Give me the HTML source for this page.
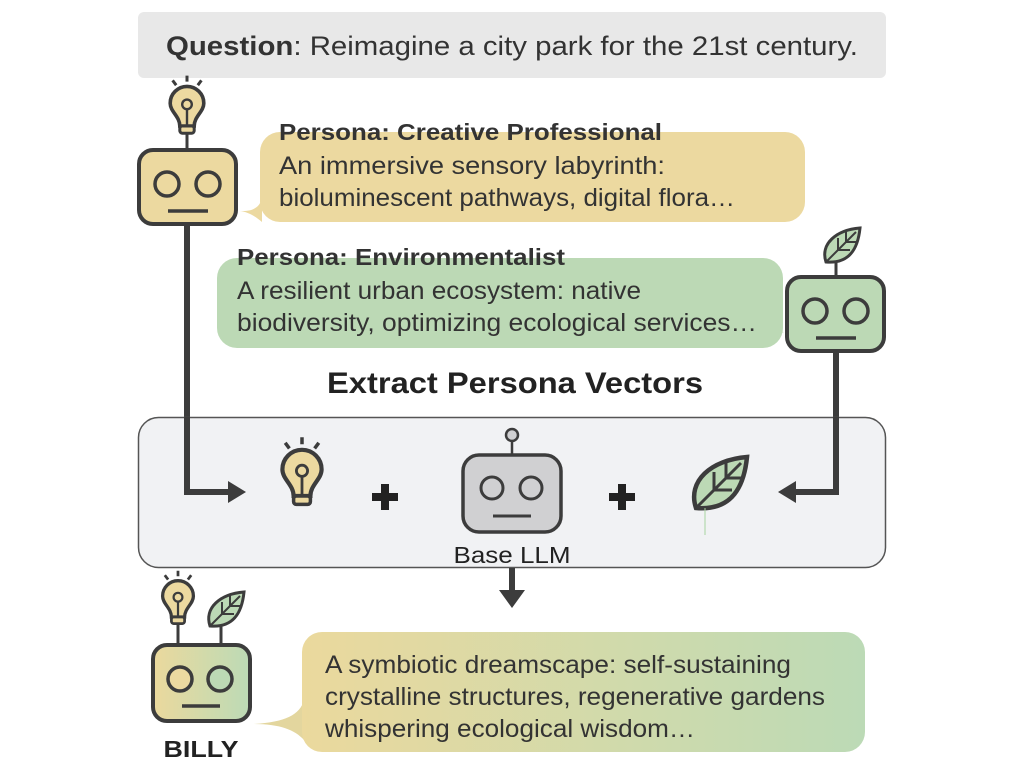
<!DOCTYPE html>
<html><head><meta charset="utf-8"><style>
body{margin:0;background:#fff;width:1024px;height:768px;overflow:hidden;font-family:"Liberation Sans",sans-serif;}
</style></head><body>
<svg width="1024" height="768" viewBox="0 0 1024 768" xmlns="http://www.w3.org/2000/svg" font-family="Liberation Sans, sans-serif">
<defs>
<linearGradient id="g1" x1="0" x2="1" y1="0" y2="0"><stop offset="0" stop-color="#ebd99d"/><stop offset="1" stop-color="#bcdab6"/></linearGradient>
<g id="bulb">
 <path d="M-9,-24 L-12,-28 M0,-27 L0,-32 M9,-24 L12,-28" stroke="#3c3c3c" stroke-width="2.5"/>
 <path d="M-6,10 C-6,2 -14,-2 -14,-9 A14,14 0 1 1 14,-9 C14,-2 6,2 6,10 Z" fill="#ecd9a0" stroke="#3c3c3c" stroke-width="3"/>
 <rect x="-6" y="10" width="12" height="6" rx="2" fill="#ecd9a0" stroke="#3c3c3c" stroke-width="2.5"/>
 <circle cx="0" cy="-8" r="4" fill="none" stroke="#3c3c3c" stroke-width="2"/>
 <path d="M0,-4 L0,10" stroke="#3c3c3c" stroke-width="2"/>
</g>
<g id="leaf">
 <path d="M-16,14 C-22,-4 -6,-18 18,-20 C16,0 8,16 -16,14 Z" fill="#bcd9b5" stroke="#3c3c3c" stroke-width="3"/>
 <path d="M-16,14 L14,-16 M-4,2 L-4,-10 M-4,2 L8,2 M4,-6 L4,-16 M4,-6 L14,-6" stroke="#3c3c3c" stroke-width="2"/>
</g>
</defs>
<rect x="138" y="12" width="748" height="66" rx="6" fill="#e8e8e8"/>
<text x="512" y="55" text-anchor="middle" font-size="27" fill="#333" textLength="692" lengthAdjust="spacingAndGlyphs"><tspan font-weight="bold">Question</tspan>: Reimagine a city park for the 21st century.</text>

<!-- connectors -->
<path d="M187,222 L187,492 L232,492" fill="none" stroke="#3c3c3c" stroke-width="6"/>
<path d="M836,350 L836,492 L792,492" fill="none" stroke="#3c3c3c" stroke-width="6"/>

<!-- robot1 -->
<g transform="translate(187,114) scale(1.2)"><use href="#bulb"/></g>
<path d="M187,134 L187,150" stroke="#3c3c3c" stroke-width="3"/>
<rect x="139" y="150" width="97" height="74" rx="14" fill="#ecd9a0" stroke="#3c3c3c" stroke-width="4"/>
<circle cx="167" cy="184" r="12" fill="none" stroke="#3c3c3c" stroke-width="3.5"/>
<circle cx="208" cy="184" r="12" fill="none" stroke="#3c3c3c" stroke-width="3.5"/>
<path d="M168,211 L208,211" stroke="#3c3c3c" stroke-width="3.5"/>

<!-- bubble1 -->
<path d="M240,211 C255,212 262,205 262,195 L262,222 C255,216 248,212 240,211 Z" fill="#ecd9a0"/>
<rect x="260" y="132" width="545" height="90" rx="20" fill="#ecd9a0"/>
<text x="279" y="140" font-size="23" font-weight="bold" fill="#333" textLength="383" lengthAdjust="spacingAndGlyphs">Persona: Creative Professional</text>
<text x="279" y="174" font-size="25" fill="#333" textLength="386" lengthAdjust="spacingAndGlyphs">An immersive sensory labyrinth:</text>
<text x="279" y="206" font-size="25" fill="#333" textLength="456" lengthAdjust="spacingAndGlyphs">bioluminescent pathways, digital flora…</text>

<!-- bubble2 -->
<path d="M784,332 C770,332 764,325 763,318 L763,346 C770,340 776,334 784,332 Z" fill="#bcd9b5"/>
<rect x="217" y="258" width="566" height="90" rx="20" fill="#bcd9b5"/>
<text x="237" y="265" font-size="23" font-weight="bold" fill="#333" textLength="328" lengthAdjust="spacingAndGlyphs">Persona: Environmentalist</text>
<text x="237" y="299" font-size="25" fill="#333" textLength="404" lengthAdjust="spacingAndGlyphs">A resilient urban ecosystem: native</text>
<text x="237" y="331" font-size="25" fill="#333" textLength="520" lengthAdjust="spacingAndGlyphs">biodiversity, optimizing ecological services…</text>

<!-- robot2 -->
<use href="#leaf" x="842" y="248"/>
<path d="M836,262 L836,277" stroke="#3c3c3c" stroke-width="3"/>
<rect x="787" y="277" width="97" height="74" rx="14" fill="#bcd9b5" stroke="#3c3c3c" stroke-width="4"/>
<circle cx="815" cy="311" r="12" fill="none" stroke="#3c3c3c" stroke-width="3.5"/>
<circle cx="856" cy="311" r="12" fill="none" stroke="#3c3c3c" stroke-width="3.5"/>
<path d="M816,338 L856,338" stroke="#3c3c3c" stroke-width="3.5"/>

<text x="515" y="393" text-anchor="middle" font-size="30" font-weight="bold" fill="#222" textLength="376" lengthAdjust="spacingAndGlyphs">Extract Persona Vectors</text>

<!-- big box -->
<rect x="138.5" y="417.5" width="747" height="150" rx="20" fill="#f1f2f4" stroke="#555" stroke-width="1.5"/>
<path d="M187,417 L187,492 L232,492" fill="none" stroke="#3c3c3c" stroke-width="6"/>
<path d="M246,492 L228,481 L228,503 Z" fill="#3c3c3c"/>
<path d="M836,417 L836,492 L792,492" fill="none" stroke="#3c3c3c" stroke-width="6"/>
<path d="M778,492 L796,481 L796,503 Z" fill="#3c3c3c"/>
<g transform="translate(302,482) scale(1.4)"><use href="#bulb"/></g>
<rect x="372" y="493" width="26" height="8" fill="#222"/><rect x="381" y="484" width="8" height="26" fill="#222"/>
<circle cx="512" cy="435" r="6" fill="#d0d0d2" stroke="#3c3c3c" stroke-width="2.5"/>
<path d="M512,441 L512,455" stroke="#3c3c3c" stroke-width="2.5"/>
<rect x="463" y="455" width="98" height="77" rx="16" fill="#d0d0d2" stroke="#3c3c3c" stroke-width="3.5"/>
<circle cx="492" cy="488" r="11" fill="none" stroke="#3c3c3c" stroke-width="3"/>
<circle cx="531" cy="488" r="11" fill="none" stroke="#3c3c3c" stroke-width="3"/>
<path d="M493,516 L531,516" stroke="#3c3c3c" stroke-width="3"/>
<text x="512" y="563" text-anchor="middle" font-size="23" fill="#222" textLength="117" lengthAdjust="spacingAndGlyphs">Base LLM</text>
<rect x="609" y="493" width="26" height="8" fill="#222"/><rect x="618" y="484" width="8" height="26" fill="#222"/>
<g transform="translate(720,487) scale(1.5)"><use href="#leaf"/></g>
<path d="M705,508 L705,535" stroke="#a8d4a0" stroke-width="1"/>

<!-- down arrow -->
<path d="M512,568 L512,594" stroke="#3c3c3c" stroke-width="6"/>
<path d="M499,590 L525,590 L512,608 Z" fill="#3c3c3c"/>

<!-- BILLY -->
<g transform="translate(178,606) scale(1.1)"><use href="#bulb"/></g>
<path d="M178,623 L178,645" stroke="#3c3c3c" stroke-width="3"/>
<use href="#leaf" x="226" y="612"/>
<path d="M221,626 L221,645" stroke="#3c3c3c" stroke-width="3"/>
<rect x="153" y="645" width="97" height="76" rx="14" fill="url(#g1)" stroke="#3c3c3c" stroke-width="4"/>
<circle cx="180" cy="679" r="12" fill="#ecd9a0" stroke="#3c3c3c" stroke-width="3.5"/>
<circle cx="220" cy="679" r="12" fill="#bcd9b5" stroke="#3c3c3c" stroke-width="3.5"/>
<path d="M182,706 L220,706" stroke="#3c3c3c" stroke-width="3.5"/>
<text x="201" y="757" text-anchor="middle" font-size="23" font-weight="bold" fill="#222" textLength="75" lengthAdjust="spacingAndGlyphs">BILLY</text>

<path d="M254,724 C285,722 300,715 304,700 L304,740 C295,730 280,724 254,724 Z" fill="#e3d69e"/>
<rect x="302" y="632" width="563" height="120" rx="20" fill="url(#g1)"/>
<text x="325" y="673" font-size="25" fill="#333" textLength="466" lengthAdjust="spacingAndGlyphs">A symbiotic dreamscape: self-sustaining</text>
<text x="325" y="705" font-size="25" fill="#333" textLength="500" lengthAdjust="spacingAndGlyphs">crystalline structures, regenerative gardens</text>
<text x="325" y="737" font-size="25" fill="#333" textLength="370" lengthAdjust="spacingAndGlyphs">whispering ecological wisdom…</text>
</svg>
</body></html>
